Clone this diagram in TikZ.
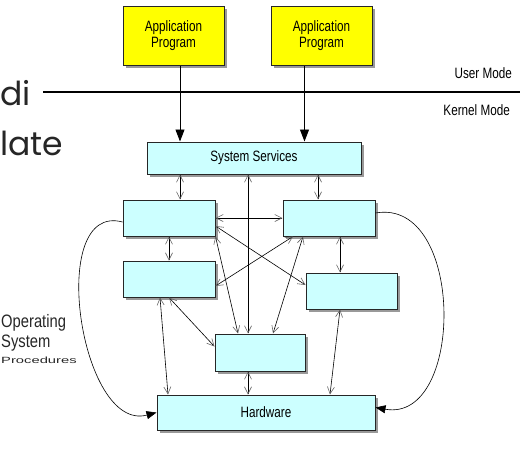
\documentclass[tikz,border=0pt]{standalone}
\usepackage{fontspec}
\usepackage{tikz}
\usetikzlibrary{arrows.meta,shadows}
\setmainfont{Liberation Sans}
\newfontfamily\diafont[FakeStretch=0.78]{Liberation Sans}
\newfontfamily\osfont[FakeStretch=0.82]{Liberation Sans}
\newfontfamily\slidefont{Poppins}
\definecolor{appyellow}{HTML}{FFFF00}
\definecolor{kernelcyan}{HTML}{CCFFFF}
\tikzset{
  proc/.style={draw=black!85,line width=1pt,fill=kernelcyan,
    drop shadow={shadow xshift=3pt,shadow yshift=-3pt,fill=black!40,opacity=1},
    font=\diafont\fontsize{15}{16}\selectfont,inner sep=0pt},
  app/.style={proc,fill=appyellow,minimum width=101pt,minimum height=59pt,align=center},
  modetext/.style={anchor=base east,inner sep=0pt,font=\diafont\fontsize{15}{16}\selectfont},
  ostext/.style={anchor=base west,inner sep=0pt,font=\osfont\fontsize{18}{20}\selectfont,text=black!85},
  slidetext/.style={anchor=base west,inner sep=0pt,font=\slidefont\fontsize{33}{38}\selectfont,text=black!85},
  call/.style={line width=0.9pt,-{Triangle[length=12pt,width=9pt]}},
  link/.style={line width=0.6pt,{Straight Barb[length=7pt,width=7pt,color=black!60]}-{Straight Barb[length=7pt,width=7pt,color=black!60]}},
  jump/.style={line width=0.6pt,-{Triangle[length=10pt,width=8pt]}}
}
\begin{document}
\begin{tikzpicture}[x=1pt,y=-1pt,node distance=148pt]
  \useasboundingbox (0,0) rectangle (520,458);
  % slide text behind the figure
  \node[slidetext] (di) at (0,105) {di};
  \node[slidetext] (late) at (0,155) {late};
  \coordinate (divl) at (43,92);
  \coordinate (divr) at (520,92);
  \draw[line width=1.6pt] (divl) -- (divr);
  \node[modetext] (user) at (512,78) {User Mode};
  \node[modetext] (kernel) at (510,115) {Kernel Mode};

  % boxes
  \node[app] (app1) at (173.5,35.5) {Application\\Program};
  \node[app,right of=app1] (app2) {Application\\Program};
  \node[proc,minimum width=214pt,minimum height=32pt] (sys) at (254,158) {System Services};
  \node[proc,minimum width=92pt,minimum height=36pt] (a) at (169,218) {};
  \node[proc,minimum width=92pt,minimum height=36pt,right of=a,node distance=160pt] (b) {};
  \node[proc,minimum width=92pt,minimum height=36pt,below of=a,node distance=61pt] (c) {};
  \node[proc,minimum width=91pt,minimum height=36pt] (d) at (351.5,291) {};
  \node[proc,minimum width=90pt,minimum height=37pt] (e) at (260,352.5) {};
  \node[proc,minimum width=218pt,minimum height=35pt] (hw) at (266,412.5) {Hardware};

  \node[ostext] (os1) at (1,327) {Operating};
  \node[ostext] (os2) at (1,347) {System};
  \node[ostext,yscale=0.5,transform shape] (os3) at (1,363) {Procedures};

  \path[call]
  ([xshift=6.5pt]app1.south) edge ([xshift=6.5pt]app1.south |- sys.north)
  ([xshift=-17pt]app2.south) edge ([xshift=-17pt]app2.south |- sys.north);

  \path[link]
  ([xshift=11pt]a.north |- sys.south) edge ([xshift=11pt]a.north)
  ([xshift=-11pt]b.north |- sys.south) edge ([xshift=-11pt]b.north)
  ([xshift=-12pt]e.north |- sys.south) edge ([xshift=-12pt]e.north)
  (a.east) edge (b.west)
  (a.south) edge (c.north)
  ([xshift=11pt]b.south) edge ([xshift=11pt]b.south |- d.north)
  ([yshift=-8pt]a.east) edge ([yshift=6pt]d.west)
  ([xshift=-36pt]b.south) edge ([yshift=-7pt]c.east)
  (a.south east) edge ([xshift=-22pt]e.north)
  ([xshift=-26pt]b.south) edge ([xshift=13pt]e.north)
  (c.south) edge ([yshift=6pt]e.west)
  ([xshift=-9pt]c.south) edge ([xshift=-98pt]hw.north)
  ([xshift=-12pt]e.south) edge ([xshift=-12pt]e.south |- hw.north)
  ([xshift=-11.5pt]d.south) edge ([xshift=64pt]hw.north);

  \path[jump]
  ([yshift=-4pt]a.west) edge[out=165,in=195,looseness=1.05] (hw.west)
  ([yshift=5pt]b.east) edge[out=10,in=-10,looseness=1.2] ([yshift=5pt]hw.east);
\end{tikzpicture}
\end{document}
